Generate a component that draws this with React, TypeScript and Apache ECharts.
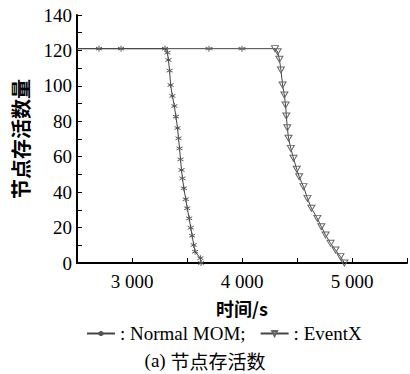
import React, { useEffect, useRef } from "react";
import * as echarts from "echarts";

const momX = [2500, 2700, 2900, 3300, 3322, 3331, 3342, 3351, 3367, 3385, 3399, 3414, 3423, 3432, 3441, 3450, 3459, 3471, 3489, 3502, 3520, 3534, 3547, 3561, 3574, 3622, 3628];
const momY = [121, 121, 121, 121, 118.7, 114.6, 108.6, 100.5, 94.3, 88.6, 82.6, 76.2, 70.4, 64.7, 58.5, 52.5, 47.8, 42.2, 36, 30.9, 25.2, 19.9, 15.4, 10.2, 6.4, 2.7, 0];
const evX = [2500, 3700, 4000, 4300, 4324, 4340, 4354, 4369, 4385, 4396, 4403, 4412, 4423, 4444, 4468, 4498, 4520, 4559, 4595, 4631, 4685, 4721, 4760, 4805, 4850, 4895, 4931];
const evY = [121, 121, 121, 121, 119.3, 115, 109, 100.5, 94.8, 89.2, 83, 76.4, 70.4, 64.7, 59.1, 52.9, 48.7, 43.1, 36.5, 30.9, 25.2, 20.5, 15.8, 11.1, 7.3, 3.6, 0];
const xTickLabels = [3000, 4000, 5000];
const seriesNames = ["Normal MOM", "EventX"];

const STAR = "path://M0,-5L0,5M-4.3,-2.5L4.3,2.5M-4.3,2.5L4.3,-2.5";
const TRI = "path://M-5,-4L5,-4L0,5Z";

export default function App() {
  const ref = useRef<HTMLDivElement>(null);
  useEffect(() => {
    if (!ref.current) return;
    const chart = echarts.init(ref.current, undefined, { renderer: "svg" });
    const serif = "Liberation Serif";
    const cjk = "Noto Sans CJK SC";
    const mk = (xs: number[], ys: number[], symbolOverride: Record<number, string>) =>
      xs.map((x, i) => {
        const item: any = { value: [x, ys[i]] };
        if (i === 0) item.symbol = "none";
        if (symbolOverride[i]) item.symbol = symbolOverride[i];
        return item;
      });
    chart.setOption({
      animation: false,
      backgroundColor: "#fff",
      grid: { left: 77, right: 0, top: 15, bottom: 111, containLabel: false },
      title: {
        text: "{a|(a) }{b|节点存活数}",
        left: "center",
        top: 350,
        padding: 0,
        textStyle: {
          fontWeight: "normal",
          lineHeight: 20,
          rich: {
            a: { fontFamily: serif, fontSize: 19, fontWeight: "normal", color: "#000", lineHeight: 20 },
            b: { fontFamily: cjk, fontSize: 19, fontWeight: "normal", color: "#000", lineHeight: 20 },
          },
        },
      },
      legend: {
        top: 324,
        left: 86,
        padding: 0,
        itemGap: 14,
        itemWidth: 28,
        itemHeight: 6,
        data: seriesNames,
        formatter: (n: string) => (n === seriesNames[0] ? ": " + n + ";" : ": " + n),
        textStyle: { fontFamily: serif, fontSize: 19, color: "#000", lineHeight: 19 },
      },
      xAxis: {
        type: "value",
        min: 2500,
        max: 5500,
        interval: 500,
        name: "时间/s",
        nameLocation: "middle",
        nameGap: 36,
        nameTextStyle: { fontFamily: cjk, fontSize: 18, fontWeight: "bold", color: "#000" },
        axisLine: { show: true, lineStyle: { color: "#000", width: 2 } },
        axisTick: { show: true, inside: true, length: 5, lineStyle: { color: "#000", width: 1 } },
        axisLabel: {
          fontFamily: serif,
          fontSize: 19,
          color: "#000",
          margin: 9,
          formatter: (v: number) =>
            xTickLabels.includes(v) ? String(v).replace(/(\d)(\d{3})$/, "$1 $2") : "",
        },
        splitLine: { show: false },
      },
      yAxis: {
        type: "value",
        min: 0,
        max: 140,
        interval: 20,
        name: "节点存活数量",
        nameLocation: "middle",
        nameGap: 47,
        nameRotate: 90,
        nameTextStyle: { fontFamily: cjk, fontSize: 20, fontWeight: "bold", color: "#000" },
        axisLine: { show: true, lineStyle: { color: "#000", width: 2 } },
        axisTick: { show: true, inside: true, length: 5, lineStyle: { color: "#000", width: 1 } },
        minorTick: { show: true, splitNumber: 2, length: 5, lineStyle: { color: "#000", width: 1 } },
        axisLabel: { fontFamily: serif, fontSize: 19, color: "#000", margin: 5 },
        splitLine: { show: false },
      },
      series: [
        {
          name: seriesNames[0],
          type: "line",
          symbol: STAR,
          symbolSize: 6,
          lineStyle: { color: "#444", width: 1 },
          itemStyle: { color: "rgba(0,0,0,0)", borderColor: "#555", borderWidth: 1 },
          data: mk(momX, momY, {}),
          z: 3,
        },
        {
          name: seriesNames[1],
          type: "line",
          symbol: TRI,
          symbolSize: [7, 6],
          lineStyle: { color: "#444", width: 1 },
          itemStyle: { color: "rgba(255,255,255,0)", borderColor: "#666", borderWidth: 1 },
          data: mk(evX, evY, { 1: STAR, 2: STAR }),
          z: 2,
        },
      ],
    });
    return () => chart.dispose();
  }, []);
  return (
    <div
      ref={ref}
      style={{ position: "fixed", left: 0, top: 0, width: 410, height: 374 }}
    />
  );
}
